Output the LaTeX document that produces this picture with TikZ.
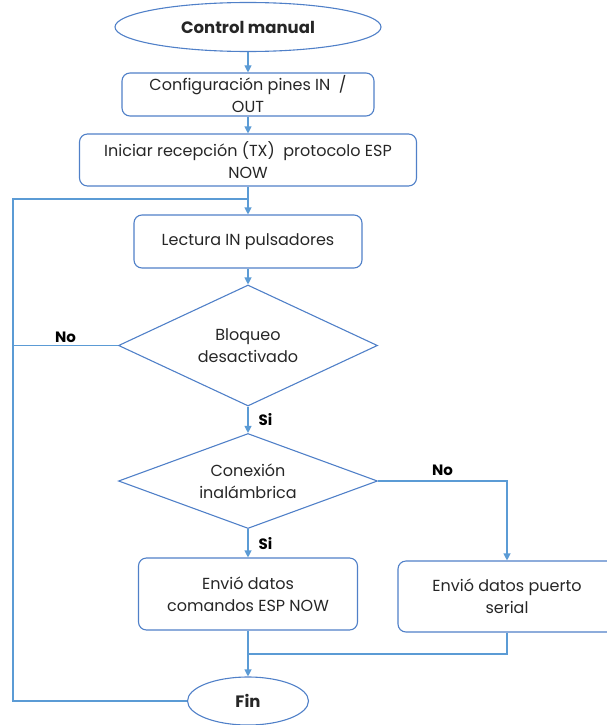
\documentclass[tikz,border=0pt]{standalone}
\usepackage{fontspec}
\setmainfont{Poppins}
\usetikzlibrary{shapes.geometric,arrows.meta}
\definecolor{lineblue}{RGB}{91,155,213}
\definecolor{boxblue}{RGB}{80,128,200}
\definecolor{txtgray}{RGB}{38,38,38}

\begin{document}
\begin{tikzpicture}[x=1pt, y=-1pt, line width=1.1pt, >={Triangle[width=7pt,length=7pt]},
        every node/.style={text=txtgray, font=\fontsize{16}{22}\selectfont},
        proc/.style={draw=boxblue, rounded corners=8pt, align=center, inner sep=0pt},
        term/.style={draw=boxblue, ellipse, inner sep=0pt, font=\fontsize{16.5}{22}\selectfont\bfseries},
        deci/.style={draw=boxblue, diamond, align=center, inner sep=0pt},
        lbl/.style={font=\fontsize{15}{18}\selectfont\bfseries, text=black, inner sep=1pt},
        conn/.style={draw=lineblue}]
        \clip (0,0) rectangle (607,725);
        \node[term, minimum width=266, minimum height=49] (start) at (248,27) {Control manual};
        \node[proc, minimum width=252, minimum height=43] (conf) at (248,94.5) {Configuración pines IN~ /\\OUT};
        \node[proc, minimum width=337, minimum height=52] (init) at (248,160) {Iniciar recepción (TX)~ protocolo ESP\\NOW};
        \node[proc, minimum width=228, minimum height=53] (read) at (248,241.5) {Lectura IN pulsadores};
        \node[deci, aspect=2.1, minimum width=259, minimum height=121] (lock) at (248,345.5) {Bloqueo\\desactivado};
        \node[deci, aspect=2.7, minimum width=259, minimum height=95] (wifi) at (248,481) {Conexión\\inalámbrica};
        \node[proc, minimum width=219, minimum height=72] (espnow) at (248,594) {Envió datos\\comandos ESP NOW};
        \node[proc, minimum width=218, minimum height=71] (serial) at (507,596.5) {Envió datos puerto\\serial};
        \node[term, minimum width=121, minimum height=48] (fin) at (248,701) {Fin};

        \coordinate (loop) at (13,199);
        \coordinate (merge) at (248,654);

        \draw[conn,->] (start) -- (conf);
        \draw[conn,->] (conf) -- (init);
        \draw[conn,->] (init) -- (read);
        \draw[conn,->] (read) -- (lock);
        \draw[conn,->] (lock) -- node[lbl, right=9pt] {Si} (wifi);
        \draw[conn,->] (wifi) -- node[lbl, right=9pt] {Si} (espnow);
        \draw[conn,->] (wifi.east) -| node[lbl, pos=0.25, above=4pt] {No} (serial.north);
        \draw[conn,->] (espnow) -- (fin);
        \draw[conn] (serial.south) |- (merge);
        % vuelta al inicio de la lectura
        \draw[conn] (lock.west) -- node[lbl, above=1pt] {No} (lock.west -| loop);
        \draw[conn] (fin.west) -| (loop) -- (loop -| read.north);
    \end{tikzpicture}
\end{document}
